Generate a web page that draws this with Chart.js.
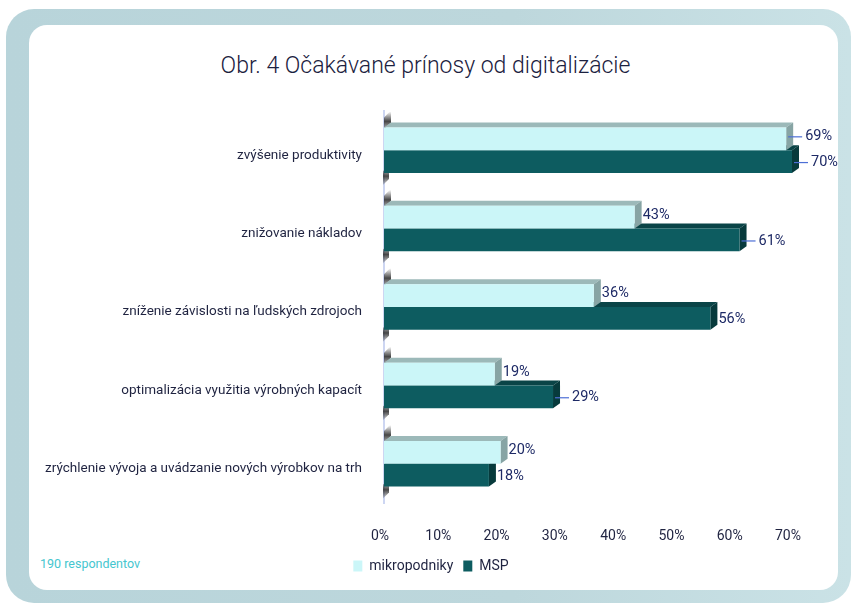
<!DOCTYPE html>
<html>
<head>
<meta charset="utf-8">
<script src="https://cdn.jsdelivr.net/npm/chart.js@4.4.1/dist/chart.umd.min.js"></script>
<style>
    html, body { margin: 0; padding: 0; background: #ffffff; }
    #wrap { position: relative; width: 851px; height: 605px; overflow: hidden; }
    #frame {
        position: absolute; left: 6px; top: 9px; width: 845px; height: 594px;
        border-radius: 28px;
        background: linear-gradient(90deg, #b8d4da 0%, #bdd7dc 60%, #cae2e6 100%);
    }
    #panel {
        position: absolute; left: 29px; top: 25px; width: 809px; height: 565px;
        border-radius: 18px; background: #ffffff;
    }
    #title {
        position: absolute; left: 0; width: 851px; top: 52px; text-align: center;
        font-family: Roboto, sans-serif; font-weight: 300; font-size: 23px; color: #1b2140;
    }
    #note {
        position: absolute; left: 40px; top: 556px;
        font-family: Roboto, sans-serif; font-size: 12.5px; color: #45c6cf;
    }
    #chart { position: absolute; left: 0; top: 0; }
</style>
</head>
<body>
<div id="wrap">
    <div id="frame"></div>
    <div id="panel"></div>
    <div id="title">Obr. 4 Očakávané prínosy od digitalizácie</div>
    <div id="note">190 respondentov</div>
    <canvas id="chart" width="862" height="605"></canvas>
</div>
<script>
// data
const categories = [
    'zvýšenie produktivity',
    'znižovanie nákladov',
    'zníženie závislosti na ľudských zdrojoch',
    'optimalizácia využitia výrobných kapacít',
    'zrýchlenie vývoja a uvádzanie nových výrobkov na trh'
];
const mikropodniky = [69, 43, 36, 19, 20];
const msp = [70, 61, 56, 29, 18];
const xTickValues = [0, 10, 20, 30, 40, 50, 60, 70];

// labels that sit a little off the bar with a short leader line (dataset-index)
const leaderLabels = ['0-0', '1-0', '1-1', '1-3'];

const DEPTH_X = 7;
const DEPTH_Y = -5;
const faceColors = [
    { top: '#9cb9b9', side: '#87a4a4' },   // mikropodniky
    { top: '#0a4447', side: '#073a3c' }    // MSP
];

// fake 3D faces behind the flat bars
const bars3d = {
    id: 'bars3d',
    beforeDatasetsDraw(chart) {
        const ctx = chart.ctx;
        const base = chart.scales.x.getPixelForValue(0);
        ctx.save();
        // wall shadow on the left of each group
        const light = chart.getDatasetMeta(0).data;
        const dark = chart.getDatasetMeta(1).data;
        light.forEach((bar, i) => {
            const top = bar.y - bar.height / 2;
            const bottom = dark[i].y + dark[i].height / 2;
            let g = ctx.createLinearGradient(0, top - 16, 0, top + 2);
            g.addColorStop(0, 'rgba(50,50,50,0)');
            g.addColorStop(0.55, 'rgba(50,50,50,0.9)');
            g.addColorStop(1, 'rgba(50,50,50,0.3)');
            ctx.fillStyle = g;
            ctx.beginPath();
            ctx.moveTo(base, top + 2);
            ctx.lineTo(base, top - 10);
            ctx.lineTo(base + DEPTH_X, top - 17);
            ctx.lineTo(base + DEPTH_X, top + DEPTH_Y);
            ctx.closePath();
            ctx.fill();
            g = ctx.createLinearGradient(0, bottom - 4, 0, bottom + 14);
            g.addColorStop(0, 'rgba(50,50,50,0.3)');
            g.addColorStop(0.4, 'rgba(50,50,50,0.9)');
            g.addColorStop(1, 'rgba(50,50,50,0)');
            ctx.fillStyle = g;
            ctx.beginPath();
            ctx.moveTo(base - 1, bottom - 2);
            ctx.lineTo(base + 5, bottom - 6);
            ctx.lineTo(base + 5, bottom + 6);
            ctx.lineTo(base - 1, bottom + 12);
            ctx.closePath();
            ctx.fill();
        });
        // top and side faces, MSP first so mikropodniky sits in front
        for (let d = 1; d >= 0; d--) {
            chart.getDatasetMeta(d).data.forEach(bar => {
                const top = bar.y - bar.height / 2;
                const bottom = bar.y + bar.height / 2;
                const end = bar.x;
                ctx.fillStyle = faceColors[d].top;
                ctx.beginPath();
                ctx.moveTo(base, top);
                ctx.lineTo(base + DEPTH_X, top + DEPTH_Y);
                ctx.lineTo(end + DEPTH_X, top + DEPTH_Y);
                ctx.lineTo(end, top);
                ctx.closePath();
                ctx.fill();
                ctx.fillStyle = faceColors[d].side;
                ctx.beginPath();
                ctx.moveTo(end, top);
                ctx.lineTo(end + DEPTH_X, top + DEPTH_Y);
                ctx.lineTo(end + DEPTH_X, bottom + DEPTH_Y);
                ctx.lineTo(end, bottom);
                ctx.closePath();
                ctx.fill();
            });
        }
        ctx.restore();
    },
    afterDatasetsDraw(chart) {
        const ctx = chart.ctx;
        ctx.save();
        ctx.font = '14.5px Roboto, sans-serif';
        ctx.textBaseline = 'middle';
        ctx.textAlign = 'left';
        chart.data.datasets.forEach((ds, d) => {
            chart.getDatasetMeta(d).data.forEach((bar, i) => {
                const x = bar.x + DEPTH_X;
                const y = d === 0 ? bar.y - 2 : bar.y + 1;
                let tx = x + 1;
                if (leaderLabels.includes(d + '-' + i)) {
                    ctx.strokeStyle = '#4d6fd6';
                    ctx.lineWidth = 1.2;
                    ctx.beginPath();
                    ctx.moveTo(bar.x + 2, y);
                    ctx.lineTo(x + 9, y);
                    ctx.stroke();
                    tx = x + 12;
                }
                ctx.fillStyle = '#1e2a66';
                ctx.fillText(ds.data[i] + '%', tx, y);
            });
        });
        ctx.restore();
    }
};

new Chart(document.getElementById('chart'), {
    type: 'bar',
    data: {
        labels: categories,
        datasets: [{
            label: 'mikropodniky',
            data: mikropodniky,
            backgroundColor: '#cbf6f8',
            borderWidth: 0,
            categoryPercentage: 0.58,
            barPercentage: 1.0
        }, {
            label: 'MSP',
            data: msp,
            backgroundColor: '#0d5c60',
            borderWidth: 0,
            categoryPercentage: 0.58,
            barPercentage: 1.0
        }]
    },
    options: {
        indexAxis: 'y',
        responsive: false,
        animation: false,
        devicePixelRatio: 1,
        layout: {
            padding: { left: 0, right: 0, top: 111, bottom: 22 }
        },
        plugins: {
            title: { display: false },
            tooltip: { enabled: false },
            legend: {
                display: true,
                position: 'bottom',
                labels: {
                    boxWidth: 9,
                    boxHeight: 11,
                    padding: 10,
                    color: '#1f2340',
                    font: { family: 'Roboto', size: 14 }
                }
            }
        },
        scales: {
            x: {
                min: 0,
                max: 70,
                afterFit: scale => { scale.height = 46; },
                afterBuildTicks: scale => {
                    scale.ticks = xTickValues.map(v => ({ value: v }));
                },
                grid: { display: false },
                border: { display: false },
                ticks: {
                    padding: 17,
                    labelOffset: -4,
                    color: '#1f2340',
                    font: { family: 'Roboto', size: 14 },
                    callback: value => value + '%'
                }
            },
            y: {
                afterFit: scale => { scale.width = 384; },
                grid: { display: false },
                border: { display: true, color: '#cdd6f2', width: 2 },
                ticks: {
                    padding: 14,
                    labelOffset: 5,
                    color: '#1f2340',
                    font: { family: 'Roboto', size: 13.5 }
                }
            },
            // empty right-hand strip that holds room for the data labels
            yRight: {
                type: 'linear',
                position: 'right',
                afterFit: scale => { scale.width = 70; },
                grid: { display: false },
                border: { display: false },
                ticks: { display: false }
            }
        }
    },
    plugins: [bars3d]
});
</script>
</body>
</html>
